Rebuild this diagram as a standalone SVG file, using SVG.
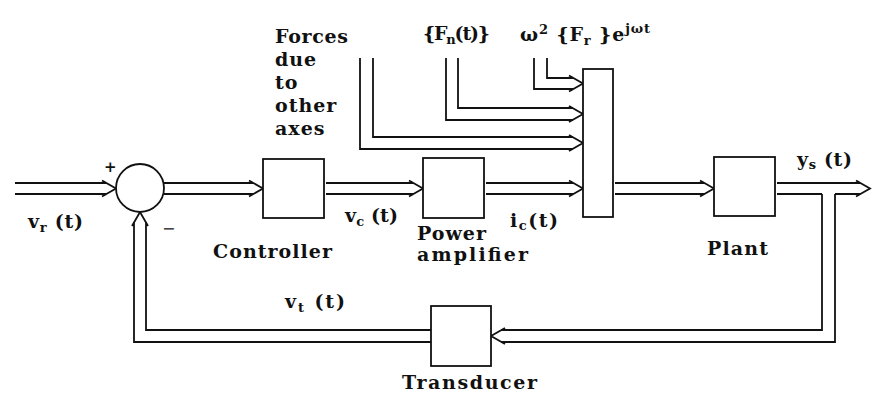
<svg xmlns="http://www.w3.org/2000/svg" width="874" height="394" viewBox="0 0 874 394">
<style>
.box{fill:#fff;stroke:#111;stroke-width:1.8}
.ln{fill:none;stroke:#111;stroke-width:1.8;stroke-linejoin:miter}
.t{font-family:"DejaVu Serif","Liberation Serif",serif;font-weight:bold;font-size:19px;fill:#111}
.sp{letter-spacing:1px}
.s{font-size:13px}
</style>
<rect width="874" height="394" fill="#fff"/>
<g id="connectors" class="ln">
  <path d="M15 183H106M15 194H106M102 180.5L116 188.5L102 196.5"/>
  <path d="M164 183H253M164 194H253M249 180.5L263 188.5L249 196.5"/>
  <path d="M326 183H413M326 194H413M409 180.5L423 188.5L409 196.5"/>
  <path d="M486 183H573M486 194H573M569 180.5L583 188.5L569 196.5"/>
  <path d="M615 183H704M615 194H704M700 180.5L714 188.5L700 196.5"/>
  <path d="M777 183H860M777 194H822M835 194H860M856 180.5L870 188.5L856 196.5"/>
  <path d="M822 194V330H501M835 194V342H501M505 328L491 336L505 344"/>
  <path d="M431 330H146V222M431 342H134V222M132 226L140 212L148 226"/>
  <path d="M373 58V137H573M360 58V149H573M569 135L583 143L569 151"/>
  <path d="M458 58V108H573M446 58V120H573M569 106L583 114L569 122"/>
  <path d="M547 58V78H573M534 58V89H573M569 75.5L583 83.5L569 91.5"/>
</g>
<g id="sum">
  <circle class="box" cx="140" cy="188" r="24"/>
  <text class="t" x="104" y="172" style="font-size:15px">+</text>
  <text class="t" x="162" y="234" style="font-size:16px;font-weight:normal">−</text>
</g>
<g id="controller">
  <rect class="box" x="263" y="159" width="61" height="59"/>
  <text class="t" x="213" y="258" textLength="119" lengthAdjust="spacing">Controller</text>
</g>
<g id="power-amplifier">
  <rect class="box" x="423" y="158" width="61" height="60"/>
  <text class="t sp" x="417" y="240">Power</text>
  <text class="t" x="417" y="261" textLength="111" lengthAdjust="spacing">amplifier</text>
</g>
<g id="force-summation">
  <rect class="box" x="583" y="69" width="30" height="148"/>
</g>
<g id="plant">
  <rect class="box" x="714" y="157" width="61" height="59"/>
  <text class="t" x="707" y="255" textLength="61" lengthAdjust="spacing">Plant</text>
</g>
<g id="transducer">
  <rect class="box" x="431" y="306" width="60" height="60"/>
  <text class="t" x="402" y="389" textLength="135" lengthAdjust="spacing">Transducer</text>
</g>
<g id="labels">
  <text class="t" x="28" y="228" textLength="55" lengthAdjust="spacing">v<tspan class="s" dy="4">r</tspan><tspan dy="-4"> (t)</tspan></text>
  <text class="t" x="345" y="222" textLength="53" lengthAdjust="spacing">v<tspan class="s" dy="4">c</tspan><tspan dy="-4"> (t)</tspan></text>
  <text class="t" x="510" y="227" textLength="48" lengthAdjust="spacing">i<tspan class="s" dy="3">c</tspan><tspan dy="-3">(t)</tspan></text>
  <text class="t" x="797" y="166" textLength="55" lengthAdjust="spacing">y<tspan class="s" dy="3">s</tspan><tspan dy="-3"> (t)</tspan></text>
  <text class="t" x="285" y="308" textLength="60" lengthAdjust="spacing">v<tspan class="s" dy="4">t</tspan><tspan dy="-4"> (t)</tspan></text>
  <text class="t" x="275" y="43" textLength="73" lengthAdjust="spacing">Forces</text>
  <text class="t sp" x="275" y="66">due</text>
  <text class="t sp" x="275" y="89">to</text>
  <text class="t sp" x="275" y="112">other</text>
  <text class="t sp" x="275" y="135">axes</text>
  <text class="t" x="423" y="40" textLength="67" lengthAdjust="spacing">{F<tspan class="s" dy="4">n</tspan><tspan dy="-4">(t)}</tspan></text>
  <text class="t" x="520" y="41" textLength="130" lengthAdjust="spacing">ω<tspan class="s" dy="-7">2</tspan><tspan dy="7"> {F</tspan><tspan class="s" dy="4">r</tspan><tspan dy="-4"> }e</tspan><tspan class="s" dy="-8">jωt</tspan></text>
</g>
</svg>
